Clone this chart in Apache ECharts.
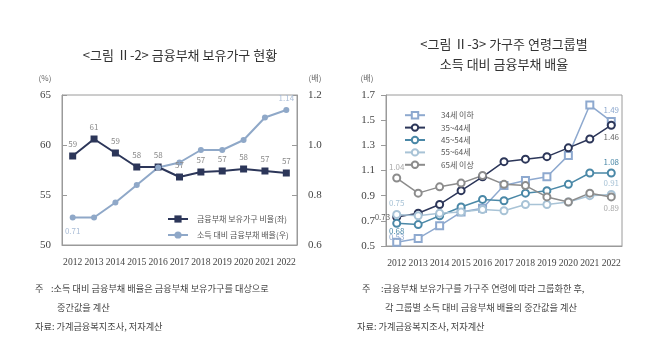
<!DOCTYPE html>
<html>
<head>
<meta charset="utf-8">
<script src="https://cdn.jsdelivr.net/npm/echarts@6.0.0/dist/echarts.min.js"></script>
<style>
html,body{margin:0;padding:0;background:#fff;}
#chart{width:660px;height:352px;}
</style>
</head>
<body>
<div id="chart"></div>
<script>
var years = ['2012','2013','2014','2015','2016','2017','2018','2019','2020','2021','2022'];

// 그림 II-2
var holdRatio = [58.9, 60.6, 59.2, 57.8, 57.8, 56.8, 57.3, 57.4, 57.6, 57.4, 57.2];
var debtMultiple = [0.71, 0.71, 0.77, 0.84, 0.91, 0.93, 0.98, 0.98, 1.02, 1.11, 1.14];

// 그림 II-3
var ageNames = ['34세 이하', '35~44세', '45~54세', '55~64세', '65세 이상'];
var age34 = [0.53, 0.56, 0.66, 0.77, 0.80, 0.98, 1.02, 1.05, 1.22, 1.62, 1.49];
var age35 = [0.73, 0.76, 0.83, 0.94, 1.05, 1.17, 1.19, 1.21, 1.28, 1.35, 1.46];
var age45 = [0.68, 0.67, 0.74, 0.81, 0.87, 0.86, 0.92, 0.94, 0.99, 1.08, 1.08];
var age55 = [0.75, 0.74, 0.76, 0.77, 0.79, 0.78, 0.83, 0.83, 0.85, 0.90, 0.91];
var age65 = [1.04, 0.92, 0.97, 1.00, 1.06, 0.99, 0.98, 0.89, 0.85, 0.92, 0.89];

var KR = '"Noto Sans CJK KR", "Noto Sans", sans-serif';
var NUM = '"Liberation Serif", serif';
var gridColor = '#9a9a9a';

var navy = '#2c3659';
var lightBlue = '#8fa8c8';
var sqBlue = '#8ea9cf';
var teal = '#4a88a7';
var pale = '#a8c3d6';
var grey = '#8c8c8c';

// 처음과 마지막 값에만 라벨 표시
function endLabels(values, first, last) {
    return values.map(function (v, i) {
        if (i === 0) return {value: v, label: first};
        if (i === values.length - 1) return {value: v, label: last};
        return v;
    });
}
function lbl(pos, color, extra) {
    var o = {show: true, position: pos, color: color, fontSize: 8, fontFamily: KR, distance: 3,
        formatter: function (p) { return p.value.toFixed(2); }};
    for (var k in extra) o[k] = extra[k];
    return o;
}

function catAxis(gi) {
    return {
        type: 'category', gridIndex: gi, data: years, boundaryGap: true,
        axisLine: {lineStyle: {color: gridColor}},
        axisTick: {inside: true, length: 5, lineStyle: {color: gridColor}},
        axisLabel: {interval: 0, margin: 12, fontSize: 9.6, fontFamily: NUM, color: '#444'}
    };
}
function valAxis(gi, min, max, step, pos, inside, digits) {
    return {
        type: 'value', gridIndex: gi, position: pos, min: min, max: max, interval: step,
        axisLine: {show: true, lineStyle: {color: gridColor}},
        axisTick: {show: true, inside: inside, length: 5, lineStyle: {color: gridColor}},
        splitLine: {show: false},
        axisLabel: {margin: 11, fontSize: 11, fontFamily: NUM, color: '#444',
            formatter: function (v) { return v.toFixed(digits); }}
    };
}

function txt(x, y, s, size, color, align) {
    return {type: 'text', x: x, y: y, style: {text: s, font: size + 'px ' + KR, fill: color,
        textAlign: align || 'left', textVerticalAlign: 'middle'}};
}

var chart = echarts.init(document.getElementById('chart'));
var option = {
    backgroundColor: '#fff',
    animation: false,
    grid: [
        {left: 62, top: 95, width: 235, height: 150, show: true, borderColor: gridColor, borderWidth: 1},
        {left: 386, top: 95, width: 236, height: 151, show: true, borderColor: gridColor, borderWidth: 1}
    ],
    xAxis: [catAxis(0), catAxis(1)],
    yAxis: [
        valAxis(0, 50, 65, 5, 'left', true, 0),
        valAxis(0, 0.6, 1.2, 0.2, 'right', true, 1),
        valAxis(1, 0.5, 1.7, 0.2, 'left', false, 1)
    ],
    legend: [
        {
            orient: 'vertical', left: 162, top: 210, itemWidth: 20, itemHeight: 9, itemGap: 8,
            data: ['금융부채 보유가구 비율(좌)', '소득 대비 금융부채 배율(우)'],
            textStyle: {fontSize: 8, fontFamily: KR, color: '#555', padding: [0, 0, 0, 4]}
        },
        {
            orient: 'vertical', left: 399, top: 106, itemWidth: 20, itemHeight: 8, itemGap: 4,
            data: ageNames,
            textStyle: {fontSize: 8, fontFamily: KR, color: '#555', padding: [0, 0, 0, 11]}
        }
    ],
    series: [
        {
            name: '금융부채 보유가구 비율(좌)', type: 'line', xAxisIndex: 0, yAxisIndex: 0,
            data: holdRatio, symbol: 'rect', symbolSize: 7,
            lineStyle: {color: navy, width: 2}, itemStyle: {color: navy},
            label: {show: true, position: 'top', distance: 5, fontSize: 8, fontFamily: KR, color: '#8a8a8a',
                formatter: function (p) { return Math.round(p.value); }}
        },
        {
            name: '소득 대비 금융부채 배율(우)', type: 'line', xAxisIndex: 0, yAxisIndex: 1,
            data: endLabels(debtMultiple, lbl('bottom', '#a9bcd6', {distance: 6}), lbl('top', '#a9bcd6', {distance: 5})),
            symbol: 'circle', symbolSize: 6,
            lineStyle: {color: lightBlue, width: 2}, itemStyle: {color: lightBlue}
        },
        {
            name: ageNames[0], type: 'line', xAxisIndex: 1, yAxisIndex: 2,
            data: endLabels(age34, lbl('inside', sqBlue, {offset: [0, -5]}), lbl('top', sqBlue)),
            symbol: 'emptyRect', symbolSize: 7,
            lineStyle: {color: sqBlue, width: 1.5}, itemStyle: {color: sqBlue, borderWidth: 1.3}
        },
        {
            name: ageNames[1], type: 'line', xAxisIndex: 1, yAxisIndex: 2,
            data: endLabels(age35, lbl('left', '#666', {distance: 2}), lbl('bottom', '#666')),
            symbol: 'emptyCircle', symbolSize: 7,
            lineStyle: {color: navy, width: 1.5}, itemStyle: {color: navy, borderWidth: 1.3}
        },
        {
            name: ageNames[2], type: 'line', xAxisIndex: 1, yAxisIndex: 2,
            data: endLabels(age45, lbl('bottom', teal, {distance: -1}), lbl('top', teal)),
            symbol: 'emptyCircle', symbolSize: 7,
            lineStyle: {color: teal, width: 1.5}, itemStyle: {color: teal, borderWidth: 1.3}
        },
        {
            name: ageNames[3], type: 'line', xAxisIndex: 1, yAxisIndex: 2,
            data: endLabels(age55, lbl('top', pale), lbl('top', pale)),
            symbol: 'emptyCircle', symbolSize: 7,
            lineStyle: {color: pale, width: 1.5}, itemStyle: {color: pale, borderWidth: 1.3}
        },
        {
            name: ageNames[4], type: 'line', xAxisIndex: 1, yAxisIndex: 2,
            data: endLabels(age65, lbl('top', '#aaa'), lbl('bottom', '#aaa')),
            symbol: 'emptyCircle', symbolSize: 7,
            lineStyle: {color: grey, width: 1.5}, itemStyle: {color: grey, borderWidth: 1.3}
        }
    ],
    graphic: [
        txt(180, 55, '<그림 Ⅱ-2> 금융부채 보유가구 현황', 13, '#333', 'center'),
        txt(504, 44, '<그림 Ⅱ-3> 가구주 연령그룹별', 13, '#333', 'center'),
        txt(504, 64, '소득 대비 금융부채 배율', 13, '#333', 'center'),
        txt(45, 78, '(%)', 8, '#666', 'center'),
        txt(315, 78, '(배)', 8, '#666', 'center'),
        txt(367, 78, '(배)', 8, '#666', 'center'),
        txt(35, 289, '주', 9.2, '#444'),
        txt(51, 289, ':소득 대비 금융부채 배율은 금융부채 보유가구를 대상으로', 9.2, '#444'),
        txt(57, 308, '중간값을 계산', 9.2, '#444'),
        txt(35, 327, '자료: 가계금융복지조사, 저자계산', 9.2, '#444'),
        txt(362, 289, '주', 9.2, '#444'),
        txt(381, 289, ':금융부채 보유가구를 가구주 연령에 따라 그룹화한 후,', 9.2, '#444'),
        txt(385, 308, '각 그룹별 소득 대비 금융부채 배율의 중간값을 계산', 9.2, '#444'),
        txt(357, 327, '자료: 가계금융복지조사, 저자계산', 9.2, '#444')
    ]
};
chart.setOption(option);
</script>
</body>
</html>
